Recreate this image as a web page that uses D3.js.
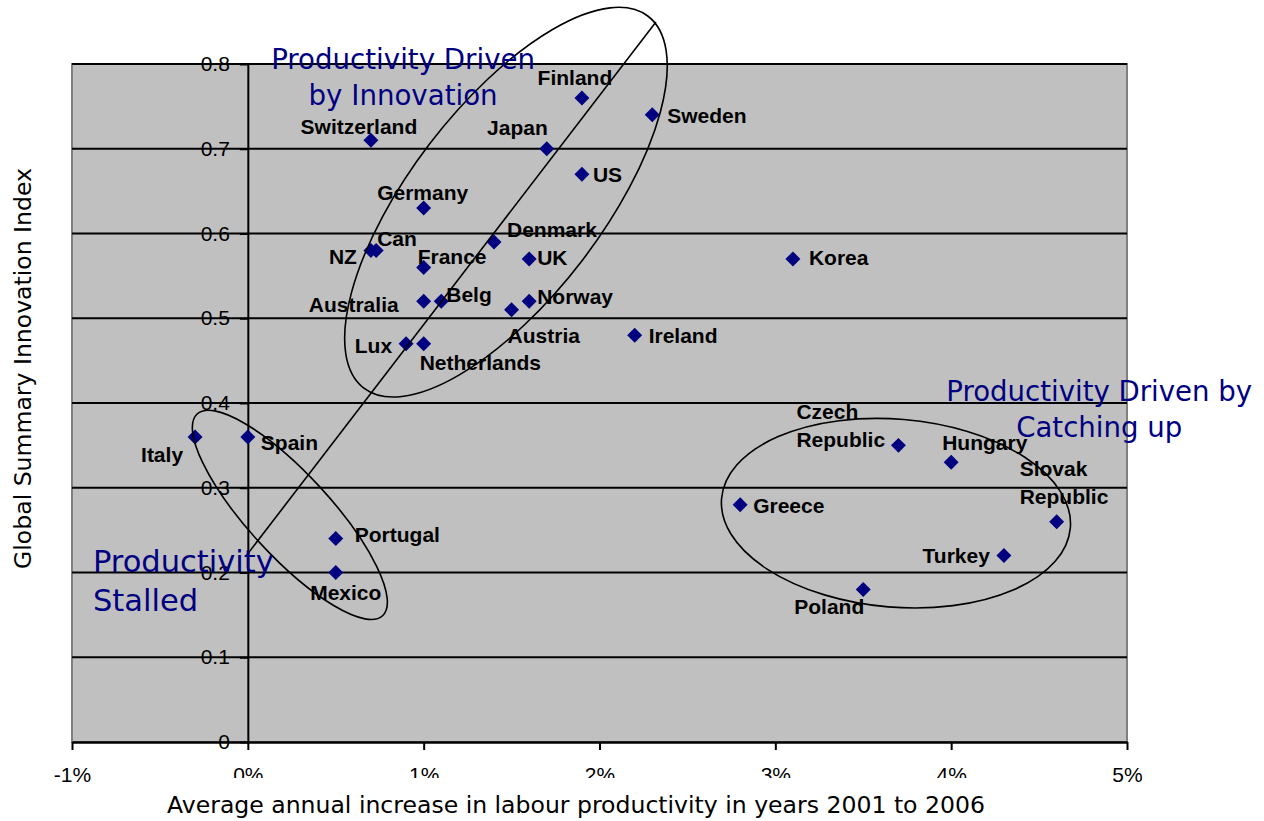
<!DOCTYPE html>
<html>
<head>
<meta charset="utf-8">
<script src="https://cdn.jsdelivr.net/npm/d3@7"></script>
<style>
  body { margin: 0; background: #fff; }
  svg { display: block; }
</style>
</head>
<body>
<div id="chart"></div>
<script>
// données
const countries = ["Finland", "Sweden", "Switzerland", "Japan", "US", "Germany", "Denmark", "NZ", "Can",
  "France", "UK", "Korea", "Australia", "Belg", "Norway", "Austria", "Ireland", "Lux", "Netherlands",
  "Italy", "Spain", "Portugal", "Mexico", "Czech Republic", "Hungary", "Greece", "Slovak Republic",
  "Turkey", "Poland"];
// croissance annuelle moyenne de la productivité (%)
const productivityGrowth = [1.9, 2.3, 0.7, 1.7, 1.9, 1.0, 1.4, 0.7, 0.73,
  1.0, 1.6, 3.1, 1.0, 1.1, 1.6, 1.5, 2.2, 0.9, 1.0,
  -0.3, 0.0, 0.5, 0.5, 3.7, 4.0, 2.8, 4.6,
  4.3, 3.5];
// Global Summary Innovation Index
const innovationIndex = [0.76, 0.74, 0.71, 0.70, 0.67, 0.63, 0.59, 0.58, 0.58,
  0.56, 0.57, 0.57, 0.52, 0.52, 0.52, 0.51, 0.48, 0.47, 0.47,
  0.36, 0.36, 0.24, 0.20, 0.35, 0.33, 0.28, 0.26,
  0.22, 0.18];
const xTicks = [-1, 0, 1, 2, 3, 4, 5];
const yTicks = [0, 0.1, 0.2, 0.3, 0.4, 0.5, 0.6, 0.7, 0.8];

// placement des étiquettes : [ancre, dx, dy] par rapport au marqueur
const labelPlacement = {
  "Finland": ["middle", -7, -13], "Sweden": ["start", 15, 8], "Switzerland": ["middle", -12, -6],
  "Japan": ["end", 1, -14], "US": ["start", 11, 8], "Germany": ["middle", -1, -8],
  "Denmark": ["start", 13, -5], "NZ": ["end", -14, 14], "Can": ["start", 1, -4],
  "France": ["start", -6, -3], "UK": ["start", 8, 6], "Korea": ["start", 16, 6],
  "Australia": ["end", -25, 11], "Belg": ["start", 5, 1], "Norway": ["start", 8, 3],
  "Austria": ["start", -4, 33], "Ireland": ["start", 14, 8], "Lux": ["end", -14, 9],
  "Netherlands": ["start", -4, 26], "Italy": ["end", -12, 25], "Spain": ["start", 13, 13],
  "Portugal": ["start", 19, 3], "Mexico": ["middle", 10, 27], "Czech Republic": ["start", -102, -26],
  "Hungary": ["start", -9, -12], "Greece": ["start", 13, 8], "Slovak Republic": ["start", -37, -46],
  "Turkey": ["end", -14, 7], "Poland": ["start", -69, 25]
};

// ellipses dessinées à la main (centre en unités du graphique, rayons en px)
const clusterEllipses = [
  { cx: 1.468, cy: 0.637, rx: 234, ry: 96, angle: -52.6 },
  { cx: 0.239, cy: 0.268, rx: 137, ry: 41, angle: 47.4 },
  { cx: 3.686, cy: 0.270, rx: 175, ry: 94, angle: 4.8 }
];
const trendLine = [[-0.01, 0.2195], [2.321, 0.8496]];

const annotations = [
  { lines: ["Productivity Driven", "by Innovation"], gx: 0.883, gy: 0.794, anchor: "middle", width: 264, lead: 36 },
  { lines: ["Productivity Driven by", "Catching up"], gx: 4.842, gy: 0.402, anchor: "middle", width: 306, lead: 36 },
  { lines: ["Productivity", "Stalled"], gx: -0.881, gy: 0.2006, anchor: "start", width: 181, lead: 39 }
];

const width = 1264, height = 821;
const plot = { left: 72, right: 1127, top: 64, bottom: 742 };

const svg = d3.select("#chart").append("svg")
  .attr("width", width)
  .attr("height", height);

const x = d3.scaleLinear().domain([-1, 5]).range([plot.left, plot.right]);
const y = d3.scaleLinear().domain([0, 0.8]).range([plot.bottom, plot.top]);

// ajuste la taille de police pour obtenir la largeur voulue
function fitTo(sel, w) {
  const len = sel.node().getComputedTextLength();
  const fs = parseFloat(sel.attr("font-size"));
  const nf = fs * w / len;
  sel.attr("font-size", nf);
  return nf;
}

// fond de la zone de tracé
svg.append("rect")
  .attr("x", plot.left).attr("y", plot.top)
  .attr("width", plot.right - plot.left)
  .attr("height", plot.bottom - plot.top)
  .attr("fill", "#c0c0c0")
  .attr("stroke", "#808080")
  .attr("stroke-width", 2);

// quadrillage
svg.append("g").selectAll("line")
  .data(yTicks.filter(d => d > 0))
  .join("line")
  .attr("x1", plot.left).attr("x2", plot.right)
  .attr("y1", d => y(d)).attr("y2", d => y(d))
  .attr("stroke", "#000")
  .attr("stroke-width", 2);

// axe Y (sur x = 0%)
const yAxis = svg.append("g")
  .attr("transform", "translate(" + x(0) + ",0)")
  .call(d3.axisLeft(y).tickValues(yTicks).tickSize(8).tickSizeOuter(0).tickPadding(10)
    .tickFormat(d3.format("~g")));
yAxis.select(".domain").attr("stroke", "#000").attr("stroke-width", 2);
yAxis.selectAll(".tick line").attr("stroke", "#000").attr("stroke-width", 2);
yAxis.selectAll(".tick text")
  .attr("font-family", "'Liberation Sans', Arial, sans-serif")
  .attr("font-size", 21)
  .attr("fill", "#000");

// axe X
const clip = svg.append("defs").append("clipPath")
  .attr("id", "tick-clip")
  .attr("clipPathUnits", "userSpaceOnUse");
clip.append("rect").attr("x", -40).attr("y", 0).attr("width", 80).attr("height", 36);

const xAxis = svg.append("g")
  .attr("transform", "translate(0," + plot.bottom + ")")
  .call(d3.axisBottom(x).tickValues(xTicks).tickSize(8).tickSizeOuter(0)
    .tickFormat(d => d + "%"));
xAxis.select(".domain").attr("stroke", "#000").attr("stroke-width", 2.5);
xAxis.selectAll(".tick line").attr("stroke", "#000").attr("stroke-width", 2);
xAxis.selectAll(".tick text")
  .attr("y", 40).attr("dy", 0)
  .attr("font-family", "'Liberation Sans', Arial, sans-serif")
  .attr("font-size", 21)
  .attr("fill", "#000")
  .filter(d => d >= 0 && d <= 4)
  .attr("clip-path", "url(#tick-clip)");

// points
const points = countries.map((c, i) => ({ name: c, growth: productivityGrowth[i], index: innovationIndex[i] }));

svg.append("g").selectAll("path")
  .data(points)
  .join("path")
  .attr("transform", d => "translate(" + x(d.growth) + "," + y(d.index) + ") rotate(45)")
  .attr("d", d3.symbol(d3.symbolSquare, 112))
  .attr("fill", "#000080");

// étiquettes des pays
const labels = svg.append("g")
  .attr("font-family", "'Liberation Sans', Arial, sans-serif")
  .attr("font-weight", "bold")
  .attr("font-size", 21)
  .attr("fill", "#000")
  .selectAll("text")
  .data(points)
  .join("text")
  .attr("text-anchor", d => labelPlacement[d.name][0])
  .attr("x", d => x(d.growth) + labelPlacement[d.name][1])
  .attr("y", d => y(d.index) + labelPlacement[d.name][2]);

labels.each(function (d) {
  const lines = d.name.includes("Republic") ? d.name.split(" ") : [d.name];
  const t = d3.select(this);
  lines.forEach((l, i) => {
    t.append("tspan")
      .attr("x", t.attr("x"))
      .attr("dy", i === 0 ? 0 : 28)
      .text(l);
  });
});

// ellipses et droite
svg.append("g").selectAll("ellipse")
  .data(clusterEllipses)
  .join("ellipse")
  .attr("transform", d => "translate(" + x(d.cx) + "," + y(d.cy) + ") rotate(" + d.angle + ")")
  .attr("rx", d => d.rx)
  .attr("ry", d => d.ry)
  .attr("fill", "none")
  .attr("stroke", "#000")
  .attr("stroke-width", 1.6);

svg.append("line")
  .attr("x1", x(trendLine[0][0])).attr("y1", y(trendLine[0][1]))
  .attr("x2", x(trendLine[1][0])).attr("y2", y(trendLine[1][1]))
  .attr("stroke", "#000")
  .attr("stroke-width", 1.6);

// annotations en bleu
annotations.forEach(a => {
  const first = svg.append("text")
    .attr("x", x(a.gx)).attr("y", y(a.gy))
    .attr("text-anchor", a.anchor)
    .attr("font-family", "'DejaVu Sans', Verdana, sans-serif")
    .attr("font-size", 26)
    .attr("fill", "#000080")
    .text(a.lines[0]);
  const fs = fitTo(first, a.width);
  a.lines.slice(1).forEach((l, i) => {
    svg.append("text")
      .attr("x", x(a.gx)).attr("y", y(a.gy) + a.lead * (i + 1))
      .attr("text-anchor", a.anchor)
      .attr("font-family", "'DejaVu Sans', Verdana, sans-serif")
      .attr("font-size", fs)
      .attr("fill", "#000080")
      .text(l);
  });
});

// titres des axes
const xTitle = svg.append("text")
  .attr("x", 576).attr("y", 813)
  .attr("text-anchor", "middle")
  .attr("font-family", "'DejaVu Sans', Verdana, sans-serif")
  .attr("font-size", 20)
  .attr("fill", "#000")
  .text("Average annual increase in labour productivity in years 2001 to 2006");
fitTo(xTitle, 818);

const yTitle = svg.append("text")
  .attr("transform", "translate(31,368.5) rotate(-90)")
  .attr("text-anchor", "middle")
  .attr("font-family", "'DejaVu Sans', Verdana, sans-serif")
  .attr("font-size", 20)
  .attr("fill", "#000")
  .text("Global Summary Innovation Index");
fitTo(yTitle, 401);
</script>
</body>
</html>
